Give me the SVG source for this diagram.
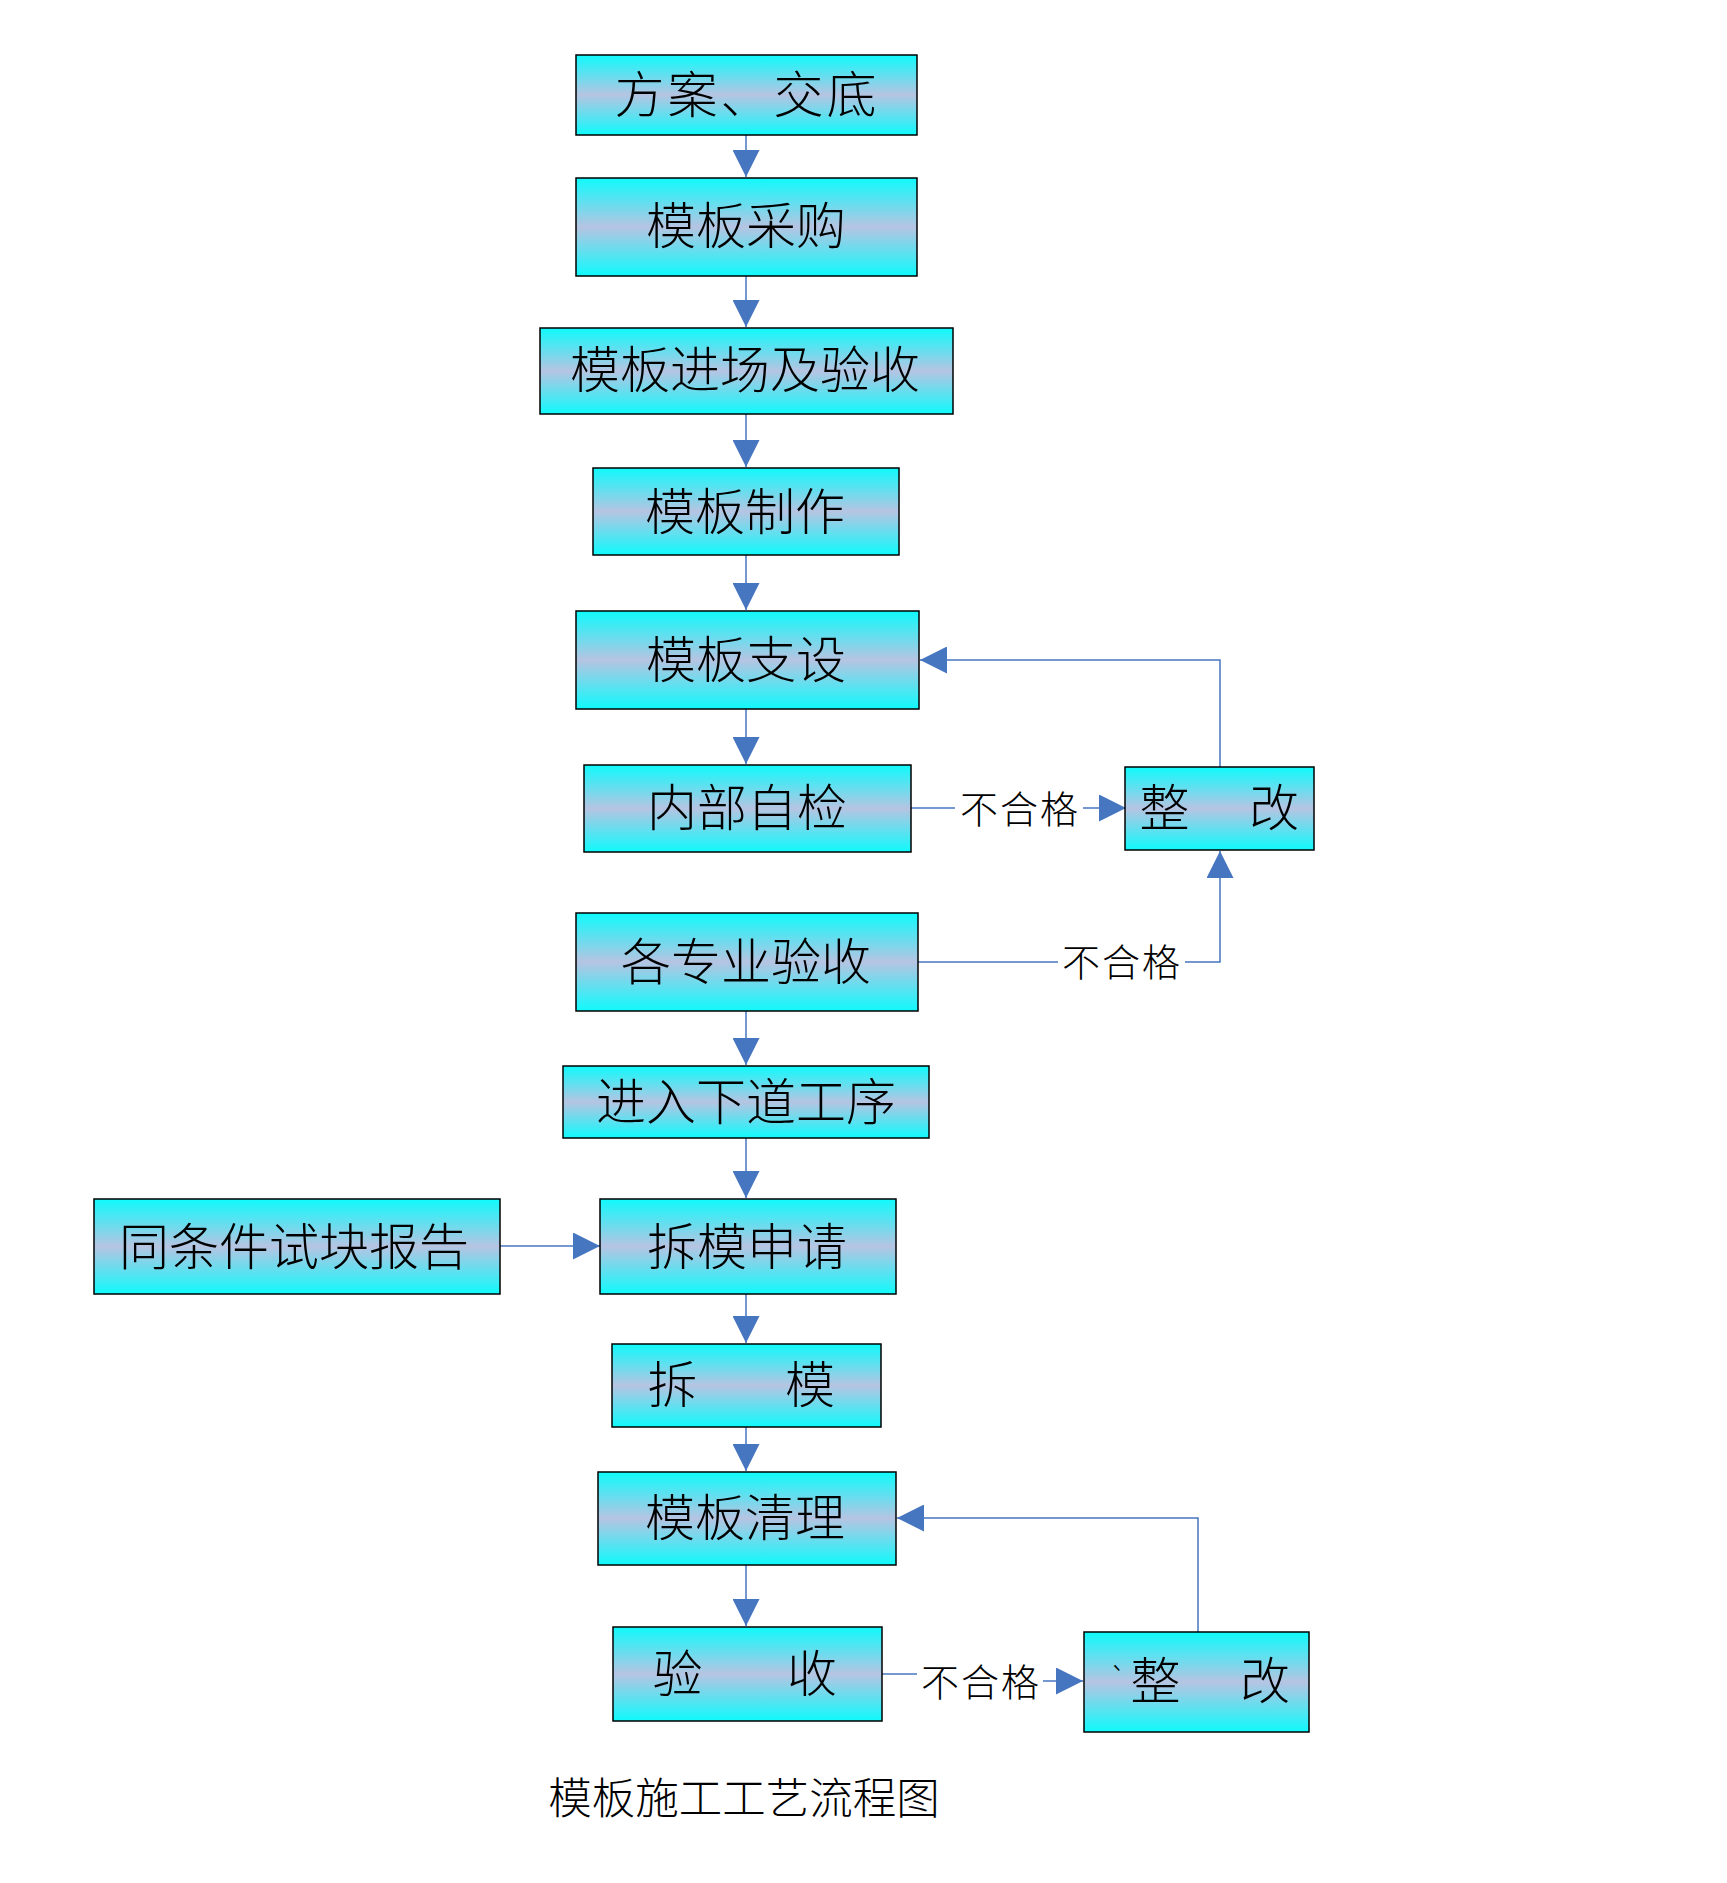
<svg xmlns="http://www.w3.org/2000/svg" width="1727" height="1883" viewBox="0 0 1727 1883">
<defs>
<linearGradient id="g" x1="0" y1="0" x2="0" y2="1">
<stop offset="0" stop-color="#0ffafc"/>
<stop offset="0.5" stop-color="#b6c4e2"/>
<stop offset="1" stop-color="#0ffafc"/>
</linearGradient>
<marker id="a" markerUnits="userSpaceOnUse" markerWidth="27" markerHeight="27" viewBox="0 0 27 27" refX="27" refY="13.5" orient="auto">
<path d="M0,0 L27,13.5 L0,27 z" fill="#4776c0"/>
</marker>
<style>
.box{fill:url(#g);stroke:#000;stroke-width:1.5}
.t{font-family:"Noto Sans CJK SC","Noto Sans CJK JP",sans-serif;font-weight:300;font-size:50px;fill:#000;text-anchor:middle;dominant-baseline:central}
.lb{font-family:"Noto Sans CJK SC","Noto Sans CJK JP",sans-serif;font-weight:300;font-size:38px;fill:#000;text-anchor:middle;dominant-baseline:central;letter-spacing:2px}
.c{fill:none;stroke:#4776c0;stroke-width:1.5}
.title{font-family:"Noto Sans CJK SC","Noto Sans CJK JP",sans-serif;font-weight:300;font-size:43.5px;fill:#000;text-anchor:middle;dominant-baseline:central}
</style>
</defs>
<rect width="1727" height="1883" fill="#fff"/>
<g id="connectors">
<path class="c" d="M746,135 V177" marker-end="url(#a)"/>
<path class="c" d="M746,276 V327" marker-end="url(#a)"/>
<path class="c" d="M746,414 V467" marker-end="url(#a)"/>
<path class="c" d="M746,555 V610" marker-end="url(#a)"/>
<path class="c" d="M746,709 V764" marker-end="url(#a)"/>
<path class="c" d="M911,808 H955"/>
<path class="c" d="M1083,808 H1126" marker-end="url(#a)"/>
<path class="c" d="M1220,767 V660 H920" marker-end="url(#a)"/>
<path class="c" d="M918,962 H1058"/>
<path class="c" d="M1185,962 H1220 V851" marker-end="url(#a)"/>
<path class="c" d="M746,1011 V1065" marker-end="url(#a)"/>
<path class="c" d="M746,1138 V1198" marker-end="url(#a)"/>
<path class="c" d="M500,1246 H600" marker-end="url(#a)"/>
<path class="c" d="M746,1294 V1343" marker-end="url(#a)"/>
<path class="c" d="M746,1427 V1471" marker-end="url(#a)"/>
<path class="c" d="M746,1565 V1626" marker-end="url(#a)"/>
<path class="c" d="M882,1674 H917"/>
<path class="c" d="M1043,1681 H1083" marker-end="url(#a)"/>
<path class="c" d="M1198,1632 V1518 H897" marker-end="url(#a)"/>
<text class="lb" x="1020" y="806">不合格</text>
<text class="lb" x="1122" y="959">不合格</text>
<text class="lb" x="981" y="1679">不合格</text>
</g>
<g id="n1"><rect class="box" x="576" y="55" width="341" height="80"/><text class="t" x="747" y="91" letter-spacing="3">方案、交底</text></g>
<g id="n2"><rect class="box" x="576" y="178" width="341" height="98"/><text class="t" x="746" y="222">模板采购</text></g>
<g id="n3"><rect class="box" x="540" y="328" width="413" height="86"/><text class="t" x="745" y="366">模板进场及验收</text></g>
<g id="n4"><rect class="box" x="593" y="468" width="306" height="87"/><text class="t" x="745" y="508">模板制作</text></g>
<g id="n5"><rect class="box" x="576" y="611" width="343" height="98"/><text class="t" x="746" y="656">模板支设</text></g>
<g id="n6"><rect class="box" x="584" y="765" width="327" height="87"/><text class="t" x="747" y="804">内部自检</text></g>
<g id="n7"><rect class="box" x="1125" y="767" width="189" height="83"/><text class="t" x="1170" y="804"><tspan x="1170">整</tspan> <tspan x="1274">改</tspan></text></g>
<g id="n8"><rect class="box" x="576" y="913" width="342" height="98"/><text class="t" x="746" y="958">各专业验收</text></g>
<g id="n9"><rect class="box" x="563" y="1066" width="366" height="72"/><text class="t" x="746" y="1098">进入下道工序</text></g>
<g id="n10"><rect class="box" x="94" y="1199" width="406" height="95"/><text class="t" x="294" y="1243">同条件试块报告</text></g>
<g id="n11"><rect class="box" x="600" y="1199" width="296" height="95"/><text class="t" x="747" y="1243">拆模申请</text></g>
<g id="n12"><rect class="box" x="612" y="1344" width="269" height="83"/><text class="t" x="677" y="1381"><tspan x="678">拆</tspan> <tspan x="810">模</tspan></text></g>
<g id="n13"><rect class="box" x="598" y="1472" width="298" height="93"/><text class="t" x="745" y="1514">模板清理</text></g>
<g id="n14"><rect class="box" x="613" y="1627" width="269" height="94"/><text class="t" x="682" y="1670"><tspan x="683">验</tspan> <tspan x="812">收</tspan></text></g>
<g id="n15"><rect class="box" x="1084" y="1632" width="225" height="100"/><text class="t" x="1161" y="1677"><tspan x="1118" font-size="30">`</tspan><tspan x="1161">整</tspan> <tspan x="1265">改</tspan></text></g>
<text class="title" x="744" y="1795">模板施工工艺流程图</text>
</svg>
